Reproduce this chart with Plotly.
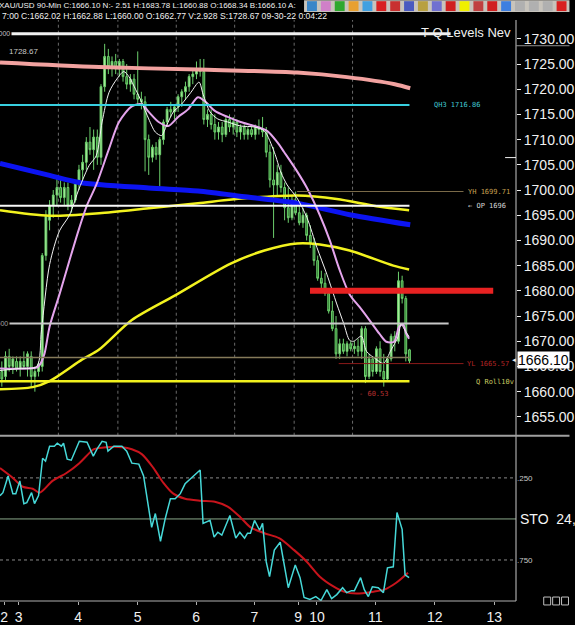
import plotly.graph_objects as go

# ---------------- data ----------------
BARS = list(range(112))
OPEN = [1664, 1663, 1667, 1665, 1666, 1664.5, 1666, 1665, 1667, 1663, 1664,
        1665, 1687, 1694, 1697, 1699, 1700.5, 1698.5, 1700.5, 1697, 1698,
        1701.5, 1704, 1705.5, 1709.5, 1708, 1710.5, 1706.5, 1720.5, 1726.5, 1724.5,
        1725.5, 1724, 1725.5, 1722.5, 1721, 1722, 1719, 1718, 1717.5, 1710,
        1706.5, 1708.5, 1707, 1710, 1713.5, 1716, 1715.5, 1716.5, 1718.5, 1719.5,
        1720.5, 1722.5, 1723, 1724, 1723.5, 1714, 1715, 1713, 1711.5, 1712.5,
        1711, 1714, 1712.5, 1713.5, 1711.5, 1712.5, 1711, 1712, 1711, 1712.5,
        1712, 1711.5, 1707.5, 1702, 1701, 1703.5, 1700.5, 1696.5, 1694.5, 1698,
        1695.5, 1693.5, 1695, 1691, 1689.5, 1686, 1682.5, 1681.5, 1679.5, 1676,
        1672.5, 1667.5, 1669.5, 1668, 1669.5, 1668.5, 1669, 1668, 1672.5, 1663,
        1666.5, 1664, 1668.5, 1664, 1662.5, 1666.5, 1671, 1670, 1682, 1678.5, 1668.3]
HIGH = [1666, 1668, 1668.5, 1667, 1667, 1667, 1668, 1668, 1668, 1665, 1666,
        1687.5, 1696, 1698, 1700, 1702.5, 1702, 1701.5, 1701.5, 1699, 1702,
        1705, 1707, 1710.5, 1712.5, 1712, 1712, 1721, 1729, 1728, 1726.5,
        1727, 1726, 1726, 1725, 1723, 1723, 1727.5, 1719.5, 1718.6, 1711,
        1709, 1709.5, 1710.5, 1714, 1716.5, 1717.5, 1717, 1719, 1720, 1721.5,
        1723, 1724, 1725.5, 1726, 1726, 1716, 1716, 1715, 1713.5, 1713.5,
        1714.5, 1715, 1714.5, 1714, 1713, 1713, 1712.5, 1713, 1713, 1714,
        1714.5, 1712.5, 1709, 1708.5, 1705, 1705, 1701.5, 1700.5, 1699, 1699.7,
        1697, 1696.5, 1695.5, 1693, 1690.5, 1687, 1684, 1683.5, 1680, 1678,
        1675, 1670.5, 1670.5, 1670, 1670, 1670, 1670.5, 1673, 1673, 1667.5,
        1667, 1669, 1670, 1667.5, 1667, 1671.5, 1672, 1683.8, 1683, 1679, 1668.5]
LOW = [1661, 1662, 1664, 1663.5, 1664, 1663, 1664.5, 1663, 1661, 1660, 1663,
       1664, 1686, 1692, 1694.5, 1697, 1697.5, 1697, 1696, 1695.5, 1697.5,
       1700, 1702, 1704, 1707, 1704, 1705, 1705, 1719.5, 1723, 1722.5,
       1723, 1722.5, 1721.5, 1720, 1719.5, 1718, 1717, 1716, 1703.7, 1703,
       1705.5, 1706, 1700.7, 1709, 1712.5, 1714.5, 1714, 1715.5, 1716.5, 1718,
       1719.5, 1721, 1722, 1722.5, 1713, 1712.5, 1712, 1710, 1710, 1709.5,
       1710.5, 1711.5, 1711, 1710.5, 1710, 1710, 1710, 1710.5, 1710, 1711,
       1710.5, 1706.5, 1700.5, 1690.5, 1699, 1699.5, 1694, 1693.5, 1694, 1695,
       1693, 1692.5, 1690, 1688.5, 1685, 1682, 1680.5, 1679, 1675.5, 1672,
       1666.5, 1666.5, 1667.5, 1667, 1668, 1667.5, 1667, 1666.5, 1661.7, 1662.5,
       1663, 1663.5, 1663, 1661, 1662, 1666, 1668, 1669.5, 1677.5, 1666, 1665.5]
CLOSE = [1662.5, 1667, 1665, 1666.5, 1664.5, 1666, 1665, 1667.5, 1663, 1664, 1665.5,
         1687, 1695, 1697, 1699, 1700.5, 1698.5, 1700.5, 1697, 1698, 1701.5,
         1704, 1705.5, 1709.5, 1708, 1710.5, 1706.5, 1720.5, 1726.5, 1724.5, 1725.5,
         1724, 1725.5, 1722.5, 1721, 1722, 1719, 1718, 1717.5, 1710, 1706.5,
         1708.5, 1707, 1710, 1713.5, 1716, 1715.5, 1716.5, 1718.5, 1719.5, 1720.5,
         1722.5, 1723, 1724, 1723.5, 1714, 1715, 1713, 1711.5, 1712.5, 1711,
         1714, 1712.5, 1713.5, 1711.5, 1712.5, 1711, 1712, 1711, 1712.5, 1712,
         1711.5, 1707.5, 1702, 1701, 1703.5, 1700.5, 1696.5, 1694.5, 1698, 1695.5,
         1693.5, 1695, 1691, 1689.5, 1686, 1682.5, 1681.5, 1679.5, 1676, 1672.5,
         1667.5, 1669.5, 1668, 1669.5, 1668.5, 1669, 1668, 1672.5, 1663, 1666.5,
         1664, 1668.5, 1664, 1662.5, 1666.5, 1671, 1670, 1682, 1678.5, 1667.5, 1666.1]

# moving averages (bar position, price)
WHITE_X = [-0.5, 4.9, 9.5, 10.8, 13.0, 15.7, 18.4, 21.1, 23.8, 25.7, 27.3, 29.2, 31.3, 33.2,
           34.6, 36.4, 38.1, 40.0, 41.8, 43.5, 44.8, 46.7, 48.9, 51.5, 53.7, 54.8, 56.7,
           58.8, 61.5, 65.0, 68.8, 71.5, 74.2, 76.0, 77.7, 80.4, 83.1, 85.8, 88.5, 91.2,
           93.1, 94.7, 95.8, 97.9, 99.3, 102.0, 103.9, 106.0, 107.9, 108.7, 109.5, 110.9]
WHITE_Y = [1664.2, 1664.6, 1665.0, 1672.3, 1685.2, 1691.9, 1695.0, 1700.4, 1704.9, 1706.8,
           1713.5, 1719.4, 1722.0, 1723.5, 1722.5, 1720.0, 1717.4, 1714.1, 1711.5, 1710.8,
           1712.7, 1715.5, 1717.0, 1719.4, 1721.4, 1719.0, 1715.5, 1714.1, 1713.5, 1712.7,
           1712.5, 1711.7, 1707.5, 1703.5, 1701.0, 1698.4, 1694.5, 1688.6, 1683.3, 1677.4,
           1673.5, 1670.2, 1670.0, 1671.0, 1668.0, 1666.4, 1665.6, 1668.3, 1670.9, 1673.5,
           1672.5, 1670.9]
PINK_X = [-0.5, 9.5, 10.3, 11.6, 13.0, 15.7, 18.4, 21.1, 23.2, 25.7, 29.2, 31.9, 35.4,
          38.1, 40.0, 42.7, 45.3, 48.0, 50.7, 53.4, 55.3, 58.0, 61.5, 65.0, 68.8, 72.3,
          75.0, 76.9, 80.4, 83.1, 86.6, 89.3, 92.0, 94.7, 97.4, 100.1, 102.8, 104.7,
          106.8, 108.2, 109.3, 110.1, 110.9]
PINK_Y = [1664.6, 1664.8, 1665.3, 1667.5, 1672.9, 1679.3, 1686.0, 1692.5, 1697.0, 1701.0,
          1708.2, 1713.5, 1716.6, 1717.0, 1715.5, 1713.5, 1712.7, 1714.5, 1716.0, 1718.4,
          1717.6, 1715.7, 1714.5, 1713.5, 1712.7, 1711.7, 1709.5, 1707.5, 1703.7, 1700.4,
          1695.0, 1690.0, 1684.1, 1679.3, 1676.8, 1674.2, 1671.5, 1669.9, 1669.9, 1672.9,
          1673.3, 1671.5, 1670.5]
SALMON_X = [-0.5, 26.5, 53.4, 80.4, 94.0, 107.0, 111.2]
SALMON_Y = [1725.3, 1724.4, 1723.9, 1723.3, 1722.4, 1721.0, 1720.2]
BLUE_X = [-0.5, 13.0, 21.1, 40.0, 53.4, 66.9, 80.4, 94.7, 111.2]
BLUE_Y = [1705.3, 1702.9, 1701.5, 1700.4, 1699.8, 1698.6, 1697.4, 1695.1, 1693.1]
YELLOW_HI_X = [-0.5, 13.0, 26.5, 40.0, 53.4, 66.9, 80.4, 91.2, 102.0, 110.9]
YELLOW_HI_Y = [1696.0, 1694.9, 1695.4, 1696.4, 1697.4, 1698.4, 1698.9, 1698.2, 1696.8, 1696.0]
YELLOW_LO_X = [-0.5, 8.4, 13.0, 21.9, 26.5, 35.4, 47.2, 62.3, 71.5, 80.4, 86.6, 94.7, 106.6, 110.9]
YELLOW_LO_Y = [1660.5, 1660.9, 1662.1, 1666.4, 1668.35, 1674.2, 1679.1, 1685.4, 1688.0,
               1689.4, 1689.2, 1688.0, 1685.0, 1684.25]

# stochastic (bar position, value on 0..1, drawn inverted)
STO_X = [-0.5, 0.3, 1.7, 3.0, 3.8, 4.9, 6.0, 6.8, 8.1, 8.9, 10.0, 11.1, 11.9, 13.0, 14.3,
         15.1, 16.2, 16.8, 17.8, 18.9, 21.1, 22.4, 23.2, 24.9, 25.9, 27.3, 28.4, 28.9,
         30.5, 32.7, 34.0, 35.4, 37.3, 38.6, 39.7, 40.8, 41.8, 43.2, 44.5, 45.9, 47.2,
         48.6, 49.9, 52.1, 54.0, 54.8, 56.7, 57.8, 58.8, 59.9, 62.1, 63.7, 64.8, 66.1,
         66.9, 67.7, 68.8, 70.2, 71.0, 72.0, 72.9, 74.2, 75.8, 78.0, 79.9, 81.2, 82.3,
         83.9, 85.5, 86.9, 88.5, 89.8, 91.2, 92.8, 93.9, 95.2, 96.0, 97.7, 98.7, 99.8,
         100.9, 102.5, 103.9, 105.0, 106.6, 107.6, 109.0, 109.8, 110.9]
STO_K = [0.358, 0.340, 0.238, 0.346, 0.346, 0.268, 0.407, 0.401, 0.340, 0.407, 0.358,
         0.130, 0.148, 0.057, 0.057, 0.039, 0.057, 0.039, 0.136, 0.142, 0.027, 0.033,
         0.033, 0.117, 0.075, 0.027, 0.033, 0.087, 0.057, 0.057, 0.087, 0.160, 0.166,
         0.238, 0.401, 0.551, 0.467, 0.636, 0.497, 0.377, 0.377, 0.346, 0.286, 0.238,
         0.202, 0.527, 0.509, 0.611, 0.581, 0.599, 0.479, 0.617, 0.581, 0.617, 0.587,
         0.587, 0.509, 0.569, 0.527, 0.762, 0.852, 0.690, 0.642, 0.919, 0.780, 0.858,
         0.979, 0.991, 0.973, 0.997, 0.931, 0.985, 0.961, 0.919, 0.949, 0.937, 0.937,
         0.858, 0.931, 0.973, 0.913, 0.919, 0.949, 0.798, 0.792, 0.461, 0.563, 0.840, 0.858]
STO_D_X = [-0.5, 3.0, 5.7, 8.4, 10.3, 13.8, 17.6, 21.1, 23.8, 25.1, 28.4, 32.7, 35.4, 38.1,
           41.3, 44.0, 46.7, 49.9, 54.2, 58.0, 61.5, 65.0, 67.7, 71.5, 75.5, 79.6, 83.1,
           86.6, 90.4, 93.1, 96.6, 101.2, 104.1, 107.4, 110.6]
STO_D = [0.190, 0.250, 0.304, 0.316, 0.340, 0.268, 0.220, 0.160, 0.099, 0.075, 0.063,
         0.063, 0.075, 0.105, 0.190, 0.280, 0.346, 0.377, 0.389, 0.395, 0.425, 0.491,
         0.551, 0.587, 0.617, 0.690, 0.762, 0.852, 0.913, 0.943, 0.955, 0.943, 0.931,
         0.889, 0.828]

# levels
TQ_TOP = 1731.0
QH3 = 1716.86
OP_LEVEL = 1696.9
YH = 1699.71
RED_ZONE = 1680.0
MID_LEVEL = 1673.5
LAST_PRICE = 1666.10
YL = 1665.57
Q_ROLL = 1662.06
LOW_MARK = 1659.5
S_PRICE = 1727.4

PRICE_TICKS = [1655, 1660, 1665, 1670, 1675, 1680, 1685, 1690, 1695, 1700,
               1705, 1710, 1715, 1720, 1725, 1730]
STO_TICKS = [0.25, 0.75]
STO_TICK_TEXT = [".250", ".750"]
DAY_BARS = [0.6, 4.6, 20.8, 37.0, 52.9, 68.8, 80.7, 85.8, 101.7, 117.9, 134.1]
DAY_LABELS = ["2", "3", "4", "5", "6", "7", "9", "10", "11", "12", "13"]
GRID_BARS = [15.4, 31.6, 47.5, 63.4, 79.6, 95.5]

HEADER1 = "XAU/USD 90-Min C:1666.10 N:- 2.51 H:1683.78 L:1660.88 O:1668.34 B:1666.10 A:"
HEADER2 = "7:00 C:1662.02 H:1662.88 L:1660.00 O:1662.77 V:2.928 S:1728.67 09-30-22 0:04:22"
ICON_COLORS = ["#3a86c8", "#d080c8", "#2fa82f", "#e8a030", "#40a0e0", "#d82020", "#c83030",
               "#4a5ac0", "#b8a040", "#7070d0", "#d02020", "#f0f000", "#c04040", "#d02020",
               "#3d7fe0", "#b0b0b0", "#b0b0b0", "#b0b0b0", "#d82020"]

# ---------------- geometry (pixels of the 575x625 page) ----------------
W, H = 575, 625
PLOT_R = 521
TOP, SEP, BOT = 20, 440, 607
P_REF, P_REF_Y, PX_PER = 1730.0, 39.0, 5.093
X0_BAR, PX_PER_BAR = -0.5, 3.708

price_top = P_REF + (P_REF_Y - TOP) / PX_PER
price_bot = P_REF - (SEP - P_REF_Y) / PX_PER
x_max = X0_BAR + PLOT_R / PX_PER_BAR
split = (BOT - SEP) / (BOT - TOP)


def px(xp):
    return xp / PLOT_R


def py(yp):
    return (BOT - yp) / (BOT - TOP)


def bar_at(xp):
    return X0_BAR + xp / PX_PER_BAR


FONT = "Liberation Sans, Arial, sans-serif"
MONO = "DejaVu Sans Mono, monospace"

fig = go.Figure()

fig.add_trace(go.Candlestick(
    x=BARS, open=OPEN, high=HIGH, low=LOW, close=CLOSE,
    increasing=dict(line=dict(color="#6ccf6c", width=1), fillcolor="#b4f0a4"),
    decreasing=dict(line=dict(color="#6ccf6c", width=1), fillcolor="#2e7a2e"),
    whiskerwidth=0, showlegend=False, hoverinfo="skip", xaxis="x", yaxis="y"))


def line(xs, ys, color, width, axis=("x", "y"), shape="spline"):
    fig.add_trace(go.Scatter(x=xs, y=ys, mode="lines",
                             line=dict(color=color, width=width, shape=shape, smoothing=0.8),
                             xaxis=axis[0], yaxis=axis[1], showlegend=False, hoverinfo="skip"))


line(YELLOW_LO_X, YELLOW_LO_Y, "#f2f21e", 2.5)
line(YELLOW_HI_X, YELLOW_HI_Y, "#f2f21e", 2.5)
line(BLUE_X, BLUE_Y, "#0c14f2", 5)
line(SALMON_X, SALMON_Y, "#f2a2a0", 4)
line(PINK_X, PINK_Y, "#e4a4ec", 2)
line(WHITE_X, WHITE_Y, "#f4f4f4", 1)

line(STO_D_X, STO_D, "#c8141c", 2, axis=("x2", "y2"))
line(STO_X, STO_K, "#46d8d8", 1.5, axis=("x2", "y2"), shape="linear")

shapes = []


def hline(level, x0, x1, color, width, dash="solid"):
    shapes.append(dict(type="line", xref="x", yref="y", x0=x0, x1=x1, y0=level, y1=level,
                       line=dict(color=color, width=width, dash=dash)))


end_bar = BARS[-1]
hline(TQ_TOP, X0_BAR, bar_at(455), "#f0f0f0", 3)
hline(QH3, X0_BAR, end_bar, "#38d0e0", 2)
hline(OP_LEVEL, X0_BAR, end_bar, "#f8f8f8", 2)
hline(YH, bar_at(300), bar_at(468), "#7a6a48", 1)
hline(MID_LEVEL, X0_BAR, bar_at(453), "#c8c8c8", 2)
hline(LAST_PRICE + 0.7, X0_BAR, end_bar, "#857a5a", 1.5)
hline(YL, bar_at(342), bar_at(468), "#8a1a1a", 1)
hline(Q_ROLL, X0_BAR, end_bar, "#f2f21e", 2.5)
hline(RED_ZONE, bar_at(313), bar_at(498), "#e82222", 6)

for g in GRID_BARS:
    shapes.append(dict(type="line", xref="x", yref="paper", x0=g, x1=g, y0=py(SEP), y1=py(TOP),
                       line=dict(color="#6a6a6a", width=1, dash="dot"), layer="below"))

# frame lines
shapes.append(dict(type="line", xref="paper", yref="paper", x0=px(PLOT_R), x1=px(PLOT_R),
                   y0=py(BOT), y1=py(TOP), line=dict(color="#c8c8c8", width=1)))
shapes.append(dict(type="line", xref="paper", yref="paper", x0=px(0), x1=px(W),
                   y0=py(SEP), y1=py(SEP), line=dict(color="#a0a0a0", width=2)))
shapes.append(dict(type="line", xref="paper", yref="paper", x0=px(0), x1=px(PLOT_R),
                   y0=py(BOT), y1=py(BOT), line=dict(color="#b0b0b0", width=1)))
shapes.append(dict(type="line", xref="paper", yref="paper", x0=px(PLOT_R), x1=px(W),
                   y0=py(46), y1=py(46), line=dict(color="#909090", width=1)))
shapes.append(dict(type="line", xref="paper", yref="paper", x0=px(510), x1=px(PLOT_R),
                   y0=py(159), y1=py(159), line=dict(color="#f0f0f0", width=1)))
# stochastic reference lines
for lv, dash, col in [(0.25, "dot", "#8a8a8a"), (0.5, "solid", "#8aa88a"), (0.75, "dot", "#8a8a8a")]:
    shapes.append(dict(type="line", xref="paper", yref="y2", x0=0, x1=1, y0=lv, y1=lv,
                       line=dict(color=col, width=1, dash=dash), layer="below"))

# toolbar icons
shapes.append(dict(type="rect", xref="paper", yref="paper", x0=px(307), x1=px(W),
                   y0=py(12), y1=py(0), fillcolor="#c8c4bc", line=dict(width=0)))
for i, c in enumerate(ICON_COLORS):
    x0 = 308 + i * 14
    shapes.append(dict(type="rect", xref="paper", yref="paper", x0=px(x0 + 2), x1=px(x0 + 12),
                       y0=py(11), y1=py(1), fillcolor=c, line=dict(width=0)))
# small squares bottom right
for i in range(3):
    x0 = 549 + i * 9
    shapes.append(dict(type="rect", xref="paper", yref="paper", x0=px(x0), x1=px(x0 + 7),
                       y0=py(611), y1=py(603), line=dict(color="#c0c0c0", width=1)))

ann = []


def text(x, y, s, color, size, xref="x", yref="y", xanchor="left", font=FONT, **kw):
    ann.append(dict(x=x, y=y, xref=xref, yref=yref, text=s, showarrow=False, xanchor=xanchor,
                    yanchor="middle", font=dict(color=color, size=size, family=font), **kw))


text(px(-3), py(5), HEADER1, "#f0f0f0", 8.0, xref="paper", yref="paper")
text(px(0), py(15.5), HEADER2, "#f0f0f0", 8.6, xref="paper", yref="paper")
text(bar_at(423), TQ_TOP + 0.3, "T-Q Levels Nev", "#f0f0f0", 13)
text(bar_at(12), TQ_TOP, "1731.000", "#c0c0c0", 7, xanchor="right", bgcolor="#000000")
text(bar_at(10), MID_LEVEL, "1673.500", "#a0a0a0", 7, xanchor="right", bgcolor="#000000")
text(bar_at(7), S_PRICE, "1728.67", "#c8c8c8", 8)
text(bar_at(436), QH3, "QH3 1716.86", "#40c8d0", 7, font=MONO)
text(bar_at(471), YH, "YH 1699.71", "#c8a050", 7, font=MONO)
text(bar_at(471), OP_LEVEL, "\u2190 OP 1696", "#d8d8d8", 7, font=MONO)
text(bar_at(469), YL, "YL 1665.57", "#b02424", 7, font=MONO)
text(bar_at(479), Q_ROLL - 0.1, "Q Roll10v", "#c8c860", 7, font=MONO)
text(bar_at(360), LOW_MARK, "- 60.53", "#b83030", 7, font=MONO)
text(px(522), LAST_PRICE, "1666.10", "#000000", 14, xref="paper", bgcolor="#ffffff",
     borderpad=0, yshift=1)
text(px(514), LAST_PRICE, "\u25c4", "#f0f0f0", 6, xref="paper", yshift=1)
text(px(523), 0.5, "STO  24,", "#f4f4f4", 14, xref="paper", yref="y2")

fig.update_layout(
    width=W, height=H, margin=dict(l=0, r=W - PLOT_R, t=TOP, b=H - BOT),
    paper_bgcolor="#000000", plot_bgcolor="#000000", showlegend=False,
    font=dict(family=FONT, color="#f0f0f0"),
    xaxis=dict(domain=[0, 1], range=[X0_BAR, x_max], anchor="y", showticklabels=False,
               showgrid=False, zeroline=False, showline=False, ticks="",
               rangeslider=dict(visible=False)),
    xaxis2=dict(domain=[0, 1], range=[X0_BAR, x_max], anchor="y2", matches="x",
                tickvals=DAY_BARS, ticktext=DAY_LABELS, showgrid=False, zeroline=False,
                showline=False, ticks="outside", ticklen=3, tickcolor="#b0b0b0",
                tickfont=dict(size=14, color="#f0f0f0", family=FONT)),
    yaxis=dict(domain=[split, 1], range=[price_bot, price_top], side="right", anchor="x",
               tickvals=PRICE_TICKS, ticktext=["%.2f" % v for v in PRICE_TICKS],
               ticks="outside", ticklen=4, tickcolor="#f0f0f0", showgrid=False,
               zeroline=False, showline=False,
               tickfont=dict(size=14, color="#f0f0f0", family=FONT)),
    yaxis2=dict(domain=[0, split - 0.002], range=[1.0, 0.0], side="right", anchor="x2",
                tickvals=STO_TICKS, ticktext=STO_TICK_TEXT, ticks="", showgrid=False,
                zeroline=False, showline=False,
                tickfont=dict(size=8, color="#c8c8c8", family=FONT)),
    shapes=shapes, annotations=ann,
)

fig.write_html("out.html")
